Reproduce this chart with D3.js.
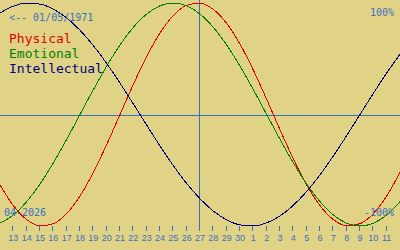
<!DOCTYPE html>
<html><head><meta charset="utf-8">
<script src="https://cdn.jsdelivr.net/npm/d3@7"></script>
<style>
html,body{margin:0;padding:0;background:#e0d386;}
svg{display:block;}
</style></head>
<body><svg id="c" width="400" height="250"></svg>
<script>
// day offsets relative to today (27)
const offsets = d3.range(-15, 16);
// tick day labels for offsets -14..14
const dayLabels = ["13","14","15","16","17","18","19","20","21","22","23","24","25","26","27","28","29","30","1","2","3","4","5","6","7","8","9","10","11"];
const tickOffsets = d3.range(-14, 15);
const physical = [-0.6311,-0.8170,-0.9423,-0.9977,-0.9791,-0.8879,-0.7308,-0.5196,-0.2698,0,0.2698,0.5196,0.7308,0.8879,0.9791,0.9977,0.9423,0.8170,0.6311,0.3984,0.1362,-0.1362,-0.3984,-0.6311,-0.8170,-0.9423,-0.9977,-0.9791,-0.8879,-0.7308,-0.5196];
const emotional = [-0.9749,-0.9010,-0.7818,-0.6235,-0.4339,-0.2225,0,0.2225,0.4339,0.6235,0.7818,0.9010,0.9749,1,0.9749,0.9010,0.7818,0.6235,0.4339,0.2225,0,-0.2225,-0.4339,-0.6235,-0.7818,-0.9010,-0.9749,-1,-0.9749,-0.9010,-0.7818];
const intellectual = [0.9096,0.9718,0.9989,0.9898,0.9450,0.8660,0.7557,0.6182,0.4582,0.2817,0.0951,-0.0951,-0.2817,-0.4582,-0.6182,-0.7557,-0.8660,-0.9450,-0.9898,-0.9989,-0.9718,-0.9096,-0.8146,-0.6901,-0.5406,-0.3717,-0.1893,0,0.1893,0.3717,0.5406];
const seriesNames = ["Physical","Emotional","Intellectual"];
const seriesColors = ["#e00000","#008000","#000080"];
const birthLabel = "<-- 01/05/1971";
const monthLabel = "04-2026";
const maxLabel = "100%";
const minLabel = "-100%";

const svg = d3.select("#c");
const x = d3.scaleLinear().domain([-15, 15]).range([0, 400]);
const y = d3.scaleLinear().domain([-1, 1]).range([226, 3]);
const blue = "#3a70c4";

// zero line
svg.append("line").attr("x1",0).attr("x2",400).attr("y1",Math.round(y(0))+0.5).attr("y2",Math.round(y(0))+0.5)
  .attr("stroke",blue).attr("stroke-width",1);
// today line
svg.append("line").attr("x1",Math.round(x(0))-0.5).attr("x2",Math.round(x(0))-0.5).attr("y1",0).attr("y2",231)
  .attr("stroke",blue).attr("stroke-width",1);
// ticks
svg.selectAll("line.tick").data(tickOffsets).enter().append("line").attr("class","tick")
  .attr("x1",d=>Math.round(x(d))-0.5).attr("x2",d=>Math.round(x(d))-0.5).attr("y1",226).attr("y2",231)
  .attr("stroke",blue).attr("stroke-width",1);
svg.selectAll("text.day").data(tickOffsets).enter().append("text").attr("class","day")
  .attr("x",d=>x(d)).attr("y",241).attr("text-anchor","middle")
  .attr("font-family","Liberation Sans").attr("font-size","9px").attr("fill",blue)
  .text((d,i)=>dayLabels[i]);

const line = d3.line().x((d,i)=>x(offsets[i])).y(d=>y(d)).curve(d3.curveMonotoneX);
[physical, emotional, intellectual].forEach((s,k)=>{
  svg.append("path").attr("d",line(s)).attr("fill","none").attr("stroke",seriesColors[k])
    .attr("stroke-width",1).attr("shape-rendering","crispEdges");
});

const mono = "DejaVu Sans Mono";
svg.append("text").attr("x",9).attr("y",21).attr("font-family",mono).attr("font-size","10px").attr("fill",blue).text(birthLabel);
svg.append("text").attr("x",394).attr("y",16).attr("text-anchor","end").attr("font-family",mono).attr("font-size","10px").attr("fill",blue).text(maxLabel);
svg.append("text").attr("x",4).attr("y",216).attr("font-family",mono).attr("font-size","10px").attr("fill",blue).text(monthLabel);
svg.append("text").attr("x",394).attr("y",216).attr("text-anchor","end").attr("font-family",mono).attr("font-size","10px").attr("fill",blue).text(minLabel);
seriesNames.forEach((n,k)=>{
  svg.append("text").attr("x",9).attr("y",43+k*15).attr("font-family",mono).attr("font-size","13px").attr("fill",seriesColors[k]).text(n);
});
</script></body></html>
